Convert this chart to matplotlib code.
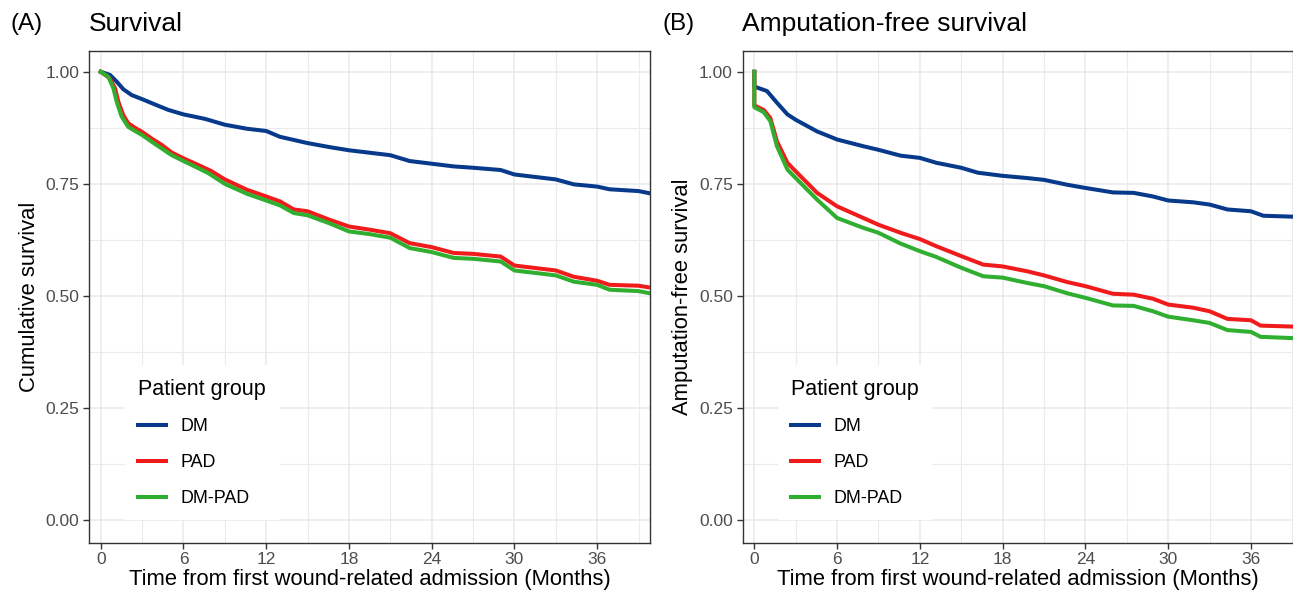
import matplotlib

matplotlib.use("Agg")
import matplotlib.pyplot as plt
from matplotlib.ticker import MultipleLocator

# --- colours (ggplot theme_bw look) ---
C_DM, C_PAD, C_DMPAD = "#083a8c", "#f01c1c", "#2fae2f"
GRID, BORDER, TICKTXT = "#ebebeb", "#333333", "#4d4d4d"

GROUPS = ["DM", "PAD", "DM-PAD"]

# --- (A) overall survival ---
A_DM_t = [0, 0.67, 1.16, 1.64, 2.25, 3.0, 3.94, 4.9, 6.0, 7.56, 9.0, 10.6, 12.0, 13.0, 15.0, 16.6,
          18.0, 21.0, 22.4, 24.0, 25.6, 27.0, 29.0, 30.0, 33.0, 34.3, 36.0, 36.9, 39.0, 40.0]
A_DM_s = [1.0, 0.993, 0.978, 0.961, 0.948, 0.939, 0.927, 0.915, 0.905, 0.895, 0.882, 0.873, 0.868,
          0.855, 0.841, 0.832, 0.825, 0.814, 0.801, 0.795, 0.789, 0.786, 0.781, 0.771, 0.760, 0.749,
          0.744, 0.738, 0.734, 0.728]
A_PAD_t = [0, 0.67, 1.04, 1.28, 1.64, 2.0, 2.49, 3.0, 3.7, 4.42, 5.15, 6.0, 7.08, 8.0, 9.0, 10.6,
           12.0, 13.0, 14.0, 15.0, 16.6, 18.0, 19.5, 21.0, 22.4, 24.0, 25.6, 27.0, 29.0, 30.0, 33.0,
           34.3, 36.0, 36.9, 39.0, 40.0]
A_PAD_s = [1.0, 0.985, 0.963, 0.933, 0.903, 0.885, 0.875, 0.866, 0.851, 0.837, 0.820, 0.807, 0.792,
           0.779, 0.760, 0.737, 0.722, 0.711, 0.693, 0.689, 0.670, 0.655, 0.648, 0.640, 0.618, 0.609,
           0.596, 0.594, 0.588, 0.568, 0.557, 0.543, 0.534, 0.525, 0.523, 0.518]
A_DMPAD_t = [0, 0.55, 0.92, 1.16, 1.52, 2.0, 2.49, 3.0, 3.7, 4.42, 5.15, 6.0, 7.08, 7.8, 9.0, 10.6,
             12.0, 13.0, 14.0, 15.0, 16.6, 18.0, 19.5, 21.0, 22.4, 24.0, 25.6, 27.0, 29.0, 30.0, 33.0,
             34.3, 36.0, 36.9, 39.0, 40.0]
A_DMPAD_s = [1.0, 0.989, 0.963, 0.933, 0.900, 0.877, 0.868, 0.859, 0.844, 0.829, 0.814, 0.801, 0.785,
             0.774, 0.750, 0.728, 0.713, 0.702, 0.685, 0.680, 0.662, 0.644, 0.638, 0.630, 0.607, 0.598,
             0.585, 0.583, 0.577, 0.557, 0.546, 0.532, 0.525, 0.514, 0.511, 0.505]

# --- (B) amputation-free survival ---
B_DM_t = [0, 0, 0.92, 1.64, 2.4, 3.0, 4.55, 6.0, 7.9, 9.0, 10.6, 12.0, 13.2, 15.0, 16.2, 18.0, 19.8,
          21.0, 22.7, 24.0, 26.0, 27.5, 28.9, 30.0, 31.8, 33.0, 34.3, 36.0, 36.9, 40.0]
B_DM_s = [1.0, 0.967, 0.957, 0.931, 0.905, 0.893, 0.867, 0.849, 0.834, 0.826, 0.813, 0.808, 0.797,
          0.786, 0.775, 0.768, 0.763, 0.759, 0.748, 0.741, 0.731, 0.730, 0.722, 0.713, 0.709, 0.704,
          0.693, 0.689, 0.679, 0.676]
B_PAD_t = [0, 0, 0.68, 1.16, 1.64, 2.4, 3.0, 4.55, 6.0, 7.9, 9.0, 10.6, 12.0, 13.2, 15.0, 16.6, 18.0,
           19.8, 21.0, 22.7, 24.0, 26.0, 27.5, 28.9, 30.0, 31.8, 33.0, 34.3, 36.0, 36.7, 40.0]
B_PAD_s = [1.0, 0.925, 0.915, 0.897, 0.845, 0.797, 0.778, 0.730, 0.700, 0.674, 0.659, 0.641, 0.627,
           0.611, 0.589, 0.570, 0.566, 0.555, 0.546, 0.531, 0.522, 0.505, 0.503, 0.494, 0.481, 0.474,
           0.466, 0.449, 0.446, 0.434, 0.431]
B_DMPAD_t = [0, 0, 0.68, 1.16, 1.64, 2.4, 3.0, 4.55, 6.0, 7.9, 9.0, 10.6, 12.0, 13.2, 15.0, 16.6, 18.0,
             19.8, 21.0, 22.7, 24.0, 26.0, 27.5, 28.9, 30.0, 31.8, 33.0, 34.3, 36.0, 36.7, 40.0]
B_DMPAD_s = [1.0, 0.921, 0.910, 0.890, 0.834, 0.782, 0.763, 0.715, 0.674, 0.652, 0.641, 0.617, 0.600,
             0.587, 0.563, 0.544, 0.541, 0.529, 0.522, 0.506, 0.496, 0.479, 0.478, 0.466, 0.454, 0.446,
             0.440, 0.424, 0.420, 0.409, 0.405]

XTICKS = [0, 6, 12, 18, 24, 30, 36]
YTICKS = [0.00, 0.25, 0.50, 0.75, 1.00]
XLAB = "Time from first wound-related admission (Months)"

plt.rcParams.update({"font.family": ["Liberation Sans", "DejaVu Sans"], "font.size": 12})

W, H = 1293, 595
fig = plt.figure(figsize=(W / 100, H / 100), dpi=100)
fig.patch.set_facecolor("white")
axA = fig.add_axes([89 / W, 52.3 / H, 561 / W, 492 / H])
axB = fig.add_axes([742.6 / W, 52.3 / H, 550.4 / W, 492 / H])


def style(ax, xmax, ylabel):
    ax.set_xlim(-0.85, xmax)
    ax.set_ylim(-0.05, 1.047)
    ax.set_xticks(XTICKS)
    ax.set_yticks(YTICKS)
    ax.set_yticklabels([f"{v:.2f}" for v in YTICKS])
    ax.xaxis.set_minor_locator(MultipleLocator(3))
    ax.yaxis.set_minor_locator(MultipleLocator(0.125))
    ax.grid(which="major", color=GRID, lw=1.2, zorder=0)
    ax.grid(which="minor", color=GRID, lw=0.8, zorder=0)
    ax.set_axisbelow(True)
    ax.tick_params(which="major", length=4, width=1, color=BORDER, labelcolor=TICKTXT,
                   labelsize=12.5, pad=3)
    ax.tick_params(which="minor", length=0)
    for s in ax.spines.values():
        s.set_color(BORDER)
        s.set_linewidth(1)
    ax.set_xlabel(XLAB, fontsize=15.8, labelpad=1)
    ax.set_ylabel(ylabel, fontsize=15.8, labelpad=4)


panels = [
    (axA, [(A_DM_t, A_DM_s), (A_PAD_t, A_PAD_s), (A_DMPAD_t, A_DMPAD_s)]),
    (axB, [(B_DM_t, B_DM_s), (B_PAD_t, B_PAD_s), (B_DMPAD_t, B_DMPAD_s)]),
]
for ax, series in panels:
    for (t, s), name, col in zip(series, GROUPS, [C_DM, C_PAD, C_DMPAD]):
        ax.plot(t, s, color=col, lw=2.9, label=name, solid_joinstyle="round", zorder=3)
    leg = ax.legend(loc="upper left", bbox_to_anchor=(0.064, 0.361), borderaxespad=0,
                    title="Patient group", title_fontsize=15.5, fontsize=12.9, alignment="left",
                    frameon=True, fancybox=False, framealpha=1, facecolor="white",
                    edgecolor="none", handlelength=1.55, handletextpad=0.8, labelspacing=1.05,
                    borderpad=0.75)
    leg.set_zorder(5)

style(axA, 39.83, "Cumulative survival")
style(axB, 39.05, "Amputation-free survival")
axB.spines["right"].set_visible(False)

fig.text(10 / W, 1 - 24 / H, "(A)", fontsize=17.5, va="center", ha="left")
fig.text(89 / W, 1 - 24 / H, "Survival", fontsize=19, va="center", ha="left")
fig.text(663 / W, 1 - 24 / H, "(B)", fontsize=17.5, va="center", ha="left")
fig.text(742 / W, 1 - 24 / H, "Amputation-free survival", fontsize=19, va="center", ha="left")

fig.savefig("out.png", dpi=100, facecolor="white")
